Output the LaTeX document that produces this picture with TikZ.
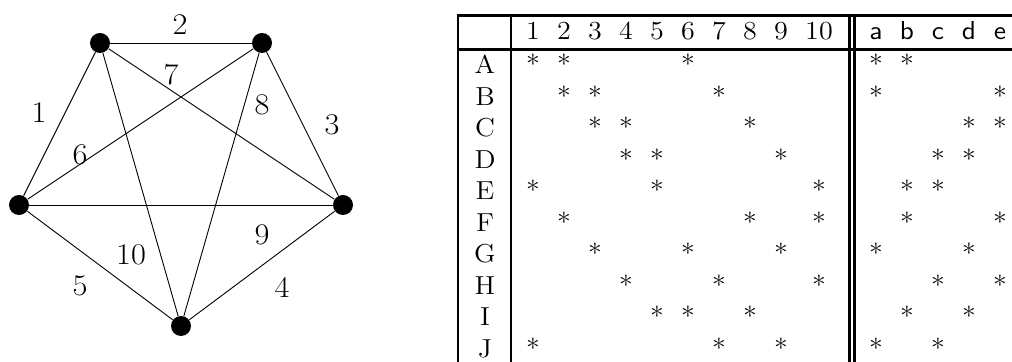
\documentclass[tikz,border=0pt]{standalone}
\usepackage{graphicx}
\newcommand{\hx}[1]{\scalebox{1.08}[1]{#1}}
\begin{document}
\begin{tikzpicture}[x=0.5pt,y=-0.5pt,
  vtx/.style={circle,fill=black,inner sep=0pt,minimum size=10pt},
  edge/.style={line width=0.45pt},
  elab/.style={font=\fontsize{15}{18}\selectfont,inner sep=0pt},
  tline/.style={line width=1.4pt},
  cell/.style={anchor=base,inner sep=0pt,font=\fontsize{13}{15}\selectfont},
  star/.style={anchor=base,inner sep=0pt,font=\fontsize{13}{15}\selectfont}]
\useasboundingbox (0,0) rectangle (1012,362);
% graph
\node[vtx] (v1) at (100,43) {};
\node[vtx] (v2) at (262,43) {};
\node[vtx] (v3) at (343,205) {};
\node[vtx] (v4) at (181,326) {};
\node[vtx] (v5) at (19,205) {};
\draw[edge] (v1) -- (v5);
\draw[edge] (v1) -- (v2);
\draw[edge] (v2) -- (v3);
\draw[edge] (v3) -- (v4);
\draw[edge] (v5) -- (v4);
\draw[edge] (v5) -- (v2);
\draw[edge] (v1) -- (v3);
\draw[edge] (v2) -- (v4);
\draw[edge] (v5) -- (v3);
\draw[edge] (v1) -- (v4);
\node[elab] (l1) at (39,113) {\hx{1}};
\node[elab] (l2) at (180,25) {\hx{2}};
\node[elab] (l3) at (332,125) {\hx{3}};
\node[elab] (l4) at (282,287) {\hx{4}};
\node[elab] (l5) at (80,286) {\hx{5}};
\node[elab] (l6) at (80,155) {\hx{6}};
\node[elab] (l7) at (171,75) {\hx{7}};
\node[elab] (l8) at (262,105) {\hx{8}};
\node[elab] (l9) at (262,235) {\hx{9}};
\node[elab] (l10) at (131,255) {\hx{10}};
% table rules
\draw[tline] (458,362) -- (458,15.7) -- (1012,15.7);
\draw[tline] (458,49.5) -- (1012,49.5);
\draw[tline] (511,15.7) -- (511,362);
\draw[tline] (849.5,15.7) -- (849.5,362);
\draw[tline] (854.5,15.7) -- (854.5,362);
% header
\foreach \c in {1,...,10}{
  \pgfmathsetmacro\xx{{533,564,595,626,657,688,719,750,781,819}[\c-1]}
  \node[cell] (h\c) at (\xx,40) {\hx{\c}};
}
\foreach \l/\xx in {a/876,b/907,c/938,d/969,e/1000}{
  \node[cell,font=\fontsize{13}{15}\selectfont\sffamily] (h\l) at (\xx,40) {\hx{\l}};
}
% rows
\foreach \r/\nums/\lets [count=\i from 0] in {
  A/{1,2,6}/{1,2}, B/{2,3,7}/{1,5}, C/{3,4,8}/{4,5}, D/{4,5,9}/{3,4},
  E/{1,5,10}/{2,3}, F/{2,8,10}/{2,5}, G/{3,6,9}/{1,4}, H/{4,7,10}/{3,5},
  I/{5,6,8}/{2,4}, J/{1,7,9}/{1,3}}{
  \pgfmathsetmacro\yy{74+31.5*\i}
  \node[cell] (r\r) at (485,\yy) {\hx{\r}};
  \foreach \c in \nums{
    \pgfmathsetmacro\xx{{533,564,595,626,657,688,719,750,781,819}[\c-1]}
    \node[star] (s\r\c) at (\xx,\yy) {\hx{*}};
  }
  \foreach \c in \lets{
    \pgfmathsetmacro\xx{{876,907,938,969,1000}[\c-1]}
    \node[star] (t\r\c) at (\xx,\yy) {\hx{*}};
  }
}
\end{tikzpicture}
\end{document}
